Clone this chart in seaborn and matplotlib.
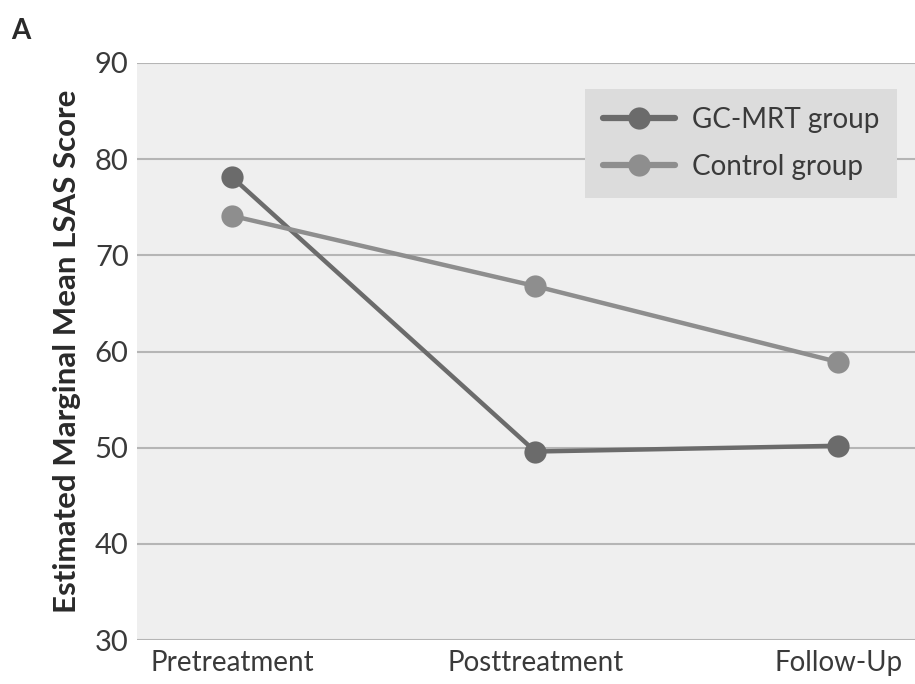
import seaborn as sns
import pandas as pd
import numpy as np
import matplotlib.pyplot as plt

# 数据
time_points = ['Pretreatment', 'Posttreatment', 'Follow-Up']
groups = ['GC-MRT group', 'Control group']
gc_mrt_scores = [78.1, 49.6, 50.2]
control_scores = [74.1, 66.8, 58.9]
y_ticks = [30, 40, 50, 60, 70, 80, 90]

data = pd.DataFrame({
    'time': time_points * 2,
    'score': gc_mrt_scores + control_scores,
    'group': [groups[0]] * 3 + [groups[1]] * 3,
})

sns.set_style('whitegrid')
plt.rcParams['font.family'] = ['Lato', 'DejaVu Sans']

fig = plt.figure(figsize=(9.15, 6.84), dpi=100)
ax = fig.add_axes([0.1497, 0.0643, 0.8503, 0.8436])
ax.set_facecolor('#efefef')

sns.lineplot(data=data, x='time', y='score', hue='group', hue_order=groups,
             palette=['#6b6b6b', '#8e8e8e'], marker='o', markersize=16,
             markeredgewidth=0, linewidth=3.2, sort=False, ax=ax)

ax.set_ylim(30, 90)
ax.set_yticks(y_ticks)
ax.set_xlim(-0.315, 2.253)
ax.grid(axis='y', color='#b5b5b5', linewidth=1.5)
ax.grid(axis='x', visible=False)
for s in ax.spines.values():
    s.set_visible(False)
ax.tick_params(axis='y', length=4, width=1, color='#b5b5b5', labelsize=21,
               labelcolor='#3a3a3a', pad=2)
ax.tick_params(axis='x', length=0, labelsize=20, labelcolor='#3a3a3a', pad=7)
ax.set_xlabel('')
ax.set_ylabel('Estimated Marginal Mean LSAS Score', fontsize=22.5,
              fontweight='bold', color='#2a2a2a', labelpad=10)

leg = ax.legend(loc='upper right', bbox_to_anchor=(0.977, 0.955),
                borderaxespad=0, fontsize=20, frameon=True, fancybox=False,
                facecolor='#dcdcdc', edgecolor='none', framealpha=1,
                handlelength=2.6, handletextpad=0.6, borderpad=0.65,
                labelspacing=0.75)
for t in leg.get_texts():
    t.set_color('#3a3a3a')
for h in leg.get_lines():
    h.set_linewidth(4.5)

fig.text(0.012, 0.955, 'A', fontsize=20, fontweight='bold', color='#2a2a2a',
         va='center')

fig.savefig('out.png', dpi=100)
